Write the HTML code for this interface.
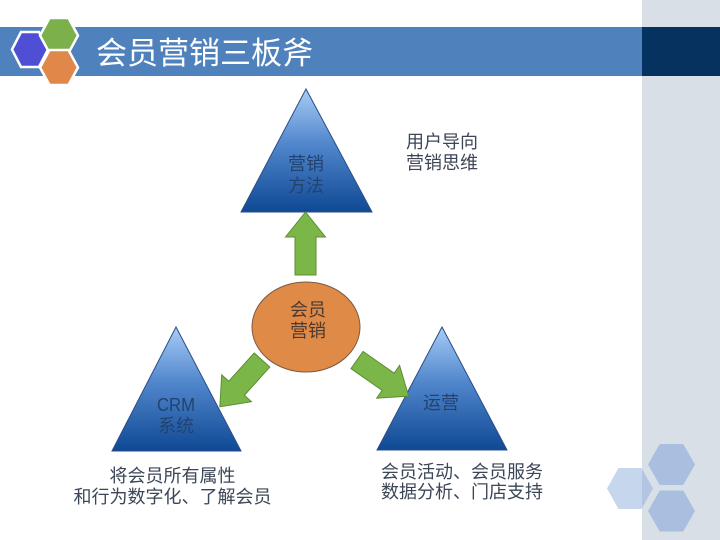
<!DOCTYPE html>
<html>
<head>
<meta charset="utf-8">
<style>
  html,body{margin:0;padding:0;background:#ffffff;}
  svg{display:block;}
  text{font-family:"Liberation Sans","Noto Sans CJK SC",sans-serif;}
</style>
</head>
<body>
<svg width="720" height="540" viewBox="0 0 720 540" xmlns="http://www.w3.org/2000/svg">
  <defs>
    <linearGradient id="tg" x1="0" y1="0" x2="0" y2="1">
      <stop offset="0" stop-color="#a8ccf6"/>
      <stop offset="0.45" stop-color="#5086cc"/>
      <stop offset="1" stop-color="#0f4994"/>
    </linearGradient>
  </defs>

  <!-- background panels -->
  <rect x="0" y="0" width="720" height="540" fill="#ffffff"/>
  <rect x="642" y="0" width="78" height="540" fill="#d9dfe7"/>
  <rect x="0" y="27" width="642" height="49" fill="#4f81bd"/>
  <rect x="642" y="27" width="78" height="49" fill="#06325f"/>

  <!-- top-left hexagons -->
  <polygon points="12,49.5 21,32 39,32 48,49.5 39,67 21,67" fill="#4e4fd4" stroke="#ffffff" stroke-width="2.5"/>
  <polygon points="40,35.5 49.5,18 68.5,18 78,35.5 68.5,53 49.5,53" fill="#7bb04a" stroke="#ffffff" stroke-width="2.5"/>
  <polygon points="40,67.5 49.5,50 68.5,50 78,67.5 68.5,85 49.5,85" fill="#e0884a" stroke="#ffffff" stroke-width="2.5"/>

  <!-- title -->
  <text x="96" y="64" font-size="31" fill="#ffffff">会员营销三板斧</text>

  <!-- triangles -->
  <polygon points="306,89 241,212 372,212" fill="url(#tg)" stroke="#2a4d85" stroke-width="1"/>
  <polygon points="176,327 112,451 241,451" fill="url(#tg)" stroke="#2a4d85" stroke-width="1"/>
  <polygon points="442,327 377,450 507,450" fill="url(#tg)" stroke="#2a4d85" stroke-width="1"/>

  <!-- triangle labels -->
  <text x="306" y="170" font-size="18" fill="#23426f" text-anchor="middle">营销</text>
  <text x="306" y="192" font-size="18" fill="#23426f" text-anchor="middle">方法</text>
  <text x="176" y="411" font-size="18" fill="#23426f" text-anchor="middle" textLength="38" lengthAdjust="spacingAndGlyphs">CRM</text>
  <text x="176" y="432" font-size="18" fill="#23426f" text-anchor="middle">系统</text>
  <text x="441" y="409" font-size="18" fill="#23426f" text-anchor="middle">运营</text>

  <!-- arrows -->
  <g fill="#7ab648" stroke="#5d8c35" stroke-width="1">
    <polygon transform="translate(305.5,275) rotate(-90)" points="0,-10.5 38,-10.5 38,-20 63,0 38,20 38,10.5 0,10.5"/>
    <polygon transform="translate(262,360) rotate(132)" points="0,-10.5 38,-10.5 38,-20 63,0 38,20 38,10.5 0,10.5"/>
    <polygon transform="translate(357,360) rotate(35)" points="0,-10.5 38,-10.5 38,-20 63,0 38,20 38,10.5 0,10.5"/>
  </g>

  <!-- center ellipse -->
  <ellipse cx="306" cy="327" rx="54" ry="45" fill="#e08a48" stroke="#7a5a45" stroke-width="1"/>
  <text x="308" y="316" font-size="18" fill="#4a3a30" text-anchor="middle">会员</text>
  <text x="308" y="337" font-size="18" fill="#4a3a30" text-anchor="middle">营销</text>

  <!-- side texts -->
  <text x="406" y="148" font-size="18" fill="#3c4656">用户导向</text>
  <text x="406" y="169" font-size="18" fill="#3c4656">营销思维</text>

  <text x="172.5" y="482" font-size="18" fill="#3c4656" text-anchor="middle">将会员所有属性</text>
  <text x="172.5" y="503" font-size="18" fill="#3c4656" text-anchor="middle">和行为数字化、了解会员</text>

  <text x="381" y="478" font-size="18" fill="#3c4656">会员活动、会员服务</text>
  <text x="381" y="498" font-size="18" fill="#3c4656">数据分析、门店支持</text>

  <!-- bottom-right hexagons -->
  <polygon points="648,464.5 659.75,444 683.25,444 695,464.5 683.25,485 659.75,485" fill="#a8bfdf"/>
  <polygon points="648,511 659.75,490.5 683.25,490.5 695,511 683.25,531.5 659.75,531.5" fill="#a8bfdf"/>
  <polygon points="607,488.5 618.5,468 641.5,468 653,488.5 641.5,509 618.5,509" fill="#8eaedb" fill-opacity="0.5"/>
</svg>
</body>
</html>
